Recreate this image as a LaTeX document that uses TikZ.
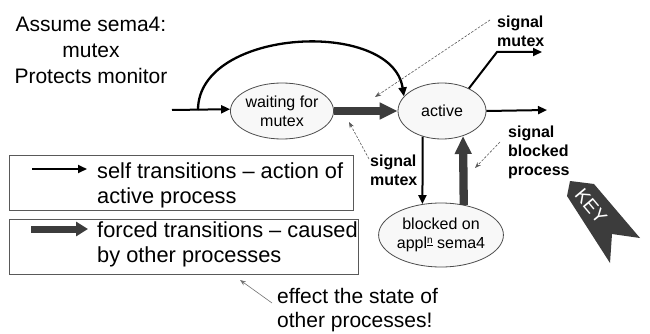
\documentclass[tikz,border=0pt]{standalone}
\usepackage{fontspec}
\setmainfont{Liberation Sans}
\usetikzlibrary{arrows.meta,shapes.geometric}
\definecolor{dk}{HTML}{3C3C3C}
\definecolor{stfill}{HTML}{F8F8F8}
\begin{document}
\begin{tikzpicture}[x=1pt,y=-1pt,
  stnode/.style={ellipse, draw=black!70, fill=stfill, line width=0.8pt, inner sep=0pt,
    align=center, font=\fontsize{16}{19}\selectfont},
  selfarr/.style={line width=2pt, -{Triangle[length=9pt,width=8pt]}},
  forcearr/.style={draw=dk, line width=8.3pt, -{Triangle[length=18pt,width=16pt]}},
  hint/.style={draw=black!65, line width=0.6pt, dash pattern=on 2.5pt off 1.5pt,
    -{Stealth[length=6pt,width=4.5pt]}},
  hintsolid/.style={draw=black!55, line width=0.6pt, -{Stealth[length=6pt,width=4.5pt]}},
  lbl/.style={align=left, inner sep=0pt, font=\bfseries\fontsize{16}{19}\selectfont},
  bigtxt/.style={inner sep=0pt, font=\fontsize{21}{26}\selectfont},
  legtxt/.style={inner sep=0pt, align=left, anchor=west, font=\fontsize{21.8}{25}\selectfont},
  keybox/.style={draw=black!65, line width=0.9pt}
]
\useasboundingbox (0,0) rectangle (650,334);

% title text
\node[bigtxt, align=center] (title) at (91,50) {Assume sema4:\\mutex\\Protects monitor};

% states
\node[stnode, minimum width=88pt, minimum height=56pt] (wait) at (282,111) {waiting for\\mutex};
\node[stnode, minimum width=88pt, minimum height=56pt] (active) at (442,111) {active};
\node[stnode, minimum width=112pt, minimum height=64pt] (blocked) at (441,235)
  {blocked on\\appl\raisebox{0.55ex}{\fontsize{10}{10}\selectfont\underline{n}} sema4};

% coordinates
\coordinate (in) at (172,110);
\coordinate (arcstart) at (198,110);
\coordinate (out1) at (547,110);
\coordinate (bend) at (497,52);
\coordinate (out2) at (542,52);

% self transitions
\draw[selfarr] (in) -- (wait.178);
\draw[selfarr, line width=2.3pt] (arcstart) .. controls (198,28) and (392,18) .. (active.159);
\draw[selfarr] (active.east) -- (out1);
\draw[line width=2pt, -{Triangle[length=9pt,width=8pt]}] (active.40) -- (bend) -- (out2);
\draw[selfarr] (active.233) -- (blocked.121);

% forced transitions
\draw[forcearr] (wait.east) -- (active.west);
\draw[forcearr] (blocked.53) -- (active.310);

% labels
\node[lbl, anchor=west] (sigtop) at (497,31) {signal\\mutex};
\node[lbl, anchor=west] (sigmid) at (370,170) {signal\\mutex};
\node[lbl, anchor=west] (sigblk) at (508,152) {signal\\blocked\\process};

% hint arrows
\coordinate (h1s) at (490,20);  \coordinate (h1e) at (375,97);
\coordinate (h2s) at (369,159); \coordinate (h2e) at (349,122);
\coordinate (h3s) at (500,142); \coordinate (h3e) at (475,168);
\coordinate (h4s) at (272,303); \coordinate (h4e) at (240,280);
\draw[hint] (h1s) -- (h1e);
\draw[hint] (h2s) -- (h2e);
\draw[hint] (h3s) -- (h3e);
\draw[hintsolid] (h4s) -- (h4e);

% legend
\draw[keybox] (9,155) rectangle (353,210);
\draw[keybox] (9,219) rectangle (358,274);
\coordinate (l1s) at (32,169); \coordinate (l1e) at (87,169);
\coordinate (l2s) at (31,229); \coordinate (l2e) at (88,229);
\draw[selfarr] (l1s) -- (l1e);
\draw[draw=dk, line width=7pt, -{Triangle[length=12pt,width=14pt]}] (l2s) -- (l2e);
\node[legtxt] (leg1) at (97,185) {self transitions -- action of\\active process};
\node[legtxt] (leg2) at (97,244) {forced transitions -- caused\\by other processes};

% bottom note
\node[bigtxt, align=left, anchor=west, font=\fontsize{21}{24}\selectfont] (note) at (277,310.5)
  {effect the state of\\other processes!};

% KEY ribbon
\fill[dk] (570,181) -- (594,184) -- (640,238) -- (612,234) -- (610,263) -- (567,196) -- cycle;
\node[text=white, rotate=-50, inner sep=0pt, font=\fontsize{19}{19}\selectfont] (key) at (591,206) {KEY};
\end{tikzpicture}
\end{document}
